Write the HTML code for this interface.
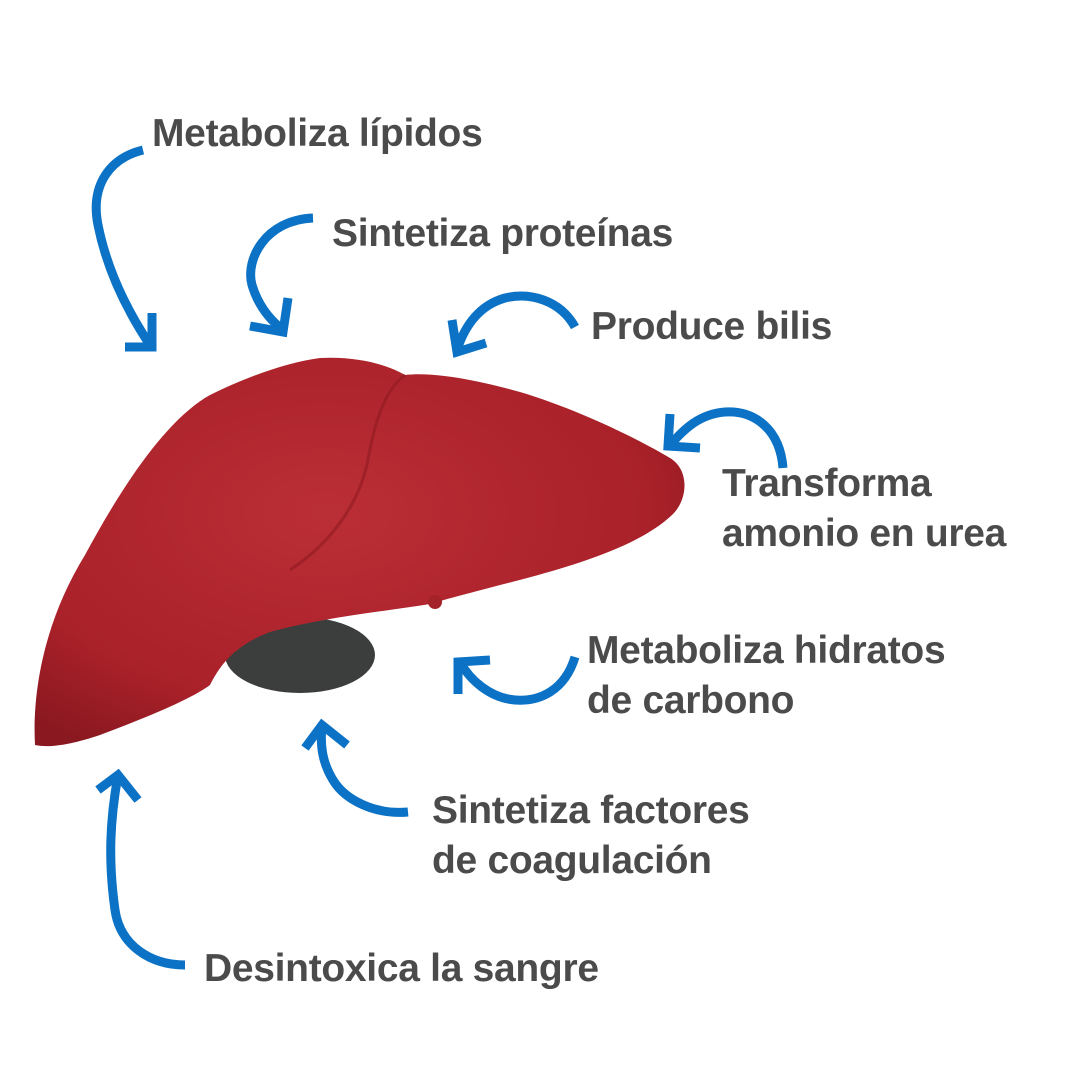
<!DOCTYPE html>
<html><head><meta charset="utf-8"><style>
html,body{margin:0;padding:0;background:#fff}
body{width:1080px;height:1080px;position:relative;overflow:hidden;font-family:"Liberation Sans",sans-serif}
.t{position:absolute;color:#4b4b4b;font-weight:bold;font-size:39px;line-height:50px;white-space:nowrap;letter-spacing:-0.3px}
</style></head><body>
<svg width="1080" height="1080" style="position:absolute;left:0;top:0">
<defs><radialGradient id="g" cx="0.45" cy="0.4" r="0.7"><stop offset="0" stop-color="#bb2e36"/><stop offset="0.7" stop-color="#aa2129"/><stop offset="1" stop-color="#8a1820"/></radialGradient></defs>
<ellipse cx="300" cy="655" rx="75" ry="38" fill="#3c3e3d"/>
<path d="M35,745 C32,690 45,620 85,555 C120,490 165,420 210,395 C250,375 290,362 320,358 C360,356 390,366 405,375 C430,372 470,378 520,392 C580,410 640,440 670,458 C690,470 688,500 672,515 C640,545 580,565 500,585 C470,593 450,598 430,604 C380,612 320,618 270,632 C235,645 220,665 210,685 C190,700 140,720 100,735 C70,745 50,748 35,745 Z" fill="url(#g)"/>
<path d="M405,375 C385,390 375,420 368,460 C360,500 335,540 290,570" stroke="#8f1a22" stroke-width="3" fill="none" opacity="0.6"/>
<circle cx="435" cy="602" r="7" fill="#a52229"/>
<g stroke="#0b72c5" stroke-width="9" fill="none" stroke-linecap="butt">
<path d="M143,150 C110,158 90,185 98,225 C108,275 130,315 150,345"/><path d="M125,347 L152,347 L152,313"/>
<path d="M313,218 C265,220 245,260 252,285 C258,305 270,320 283,330"/><path d="M250,326 L283,332 L288,298"/>
<path d="M575,327 C560,300 530,292 505,298 C480,305 465,325 457,350"/><path d="M452,320 L457,352 L486,343"/>
<path d="M783,468 C780,430 755,410 725,412 C700,414 685,428 670,445"/><path d="M670,414 L668,446 L700,448"/>
<path d="M575,657 C565,690 540,702 515,700 C490,698 470,680 460,662"/><path d="M458,694 L458,662 L490,660"/>
<path d="M408,812 C375,815 345,800 333,780 C322,762 320,745 322,725"/><path d="M305,748 L322,725 L347,745"/>
<path d="M185,965 C150,965 120,945 115,910 C108,860 110,820 118,775"/><path d="M98,790 L118,775 L138,800"/>
</g>
</svg>
<div class="t" style="left:152px;top:109px">Metaboliza lípidos</div>
<div class="t" style="left:332px;top:209px">Sintetiza proteínas</div>
<div class="t" style="left:591px;top:302px">Produce bilis</div>
<div class="t" style="left:722px;top:459px">Transforma<br>amonio en urea</div>
<div class="t" style="left:587px;top:626px">Metaboliza hidratos<br>de carbono</div>
<div class="t" style="left:432px;top:786px">Sintetiza factores<br>de coagulación</div>
<div class="t" style="left:204px;top:944px">Desintoxica la sangre</div>
</body></html>
